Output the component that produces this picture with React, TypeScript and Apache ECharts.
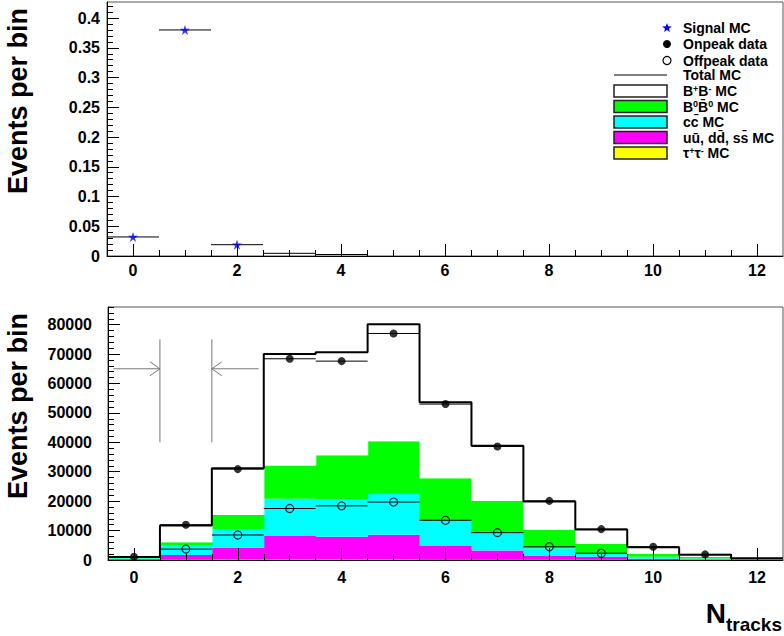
import React, { useEffect, useRef } from 'react';
import * as echarts from 'echarts';

// ---------- data ----------
const BINS = [0, 1, 2, 3, 4, 5, 6, 7, 8, 9, 10, 11, 12];
const X_MAJOR = [0, 2, 4, 6, 8, 10, 12];
const TOP_Y_LABELS = [0, 0.05, 0.1, 0.15, 0.2, 0.25, 0.3, 0.35, 0.4];
const BOTTOM_Y_LABELS = [0, 10000, 20000, 30000, 40000, 50000, 60000, 70000, 80000];

// Signal MC (top panel)
const signalMC = [0.032, 0.38, 0.019, 0.0045, 0.0025, null, null, null, null, null, null, null, null];

// Stacked MC components (bottom panel), bottom to top
const tauMC = [100, 100, 200, 200, 200, 200, 100, 100, 100, 50, 30, 20, 10];
const udsMC = [200, 1600, 4000, 8000, 7700, 8400, 4800, 3100, 1400, 1050, 370, 180, 90];
const ccMC = [300, 3200, 6200, 12600, 12800, 13900, 8700, 6200, 2500, 1200, 700, 300, 100];
const b0b0MC = [200, 1100, 4900, 11300, 14900, 17900, 14200, 10700, 6200, 3100, 900, 500, 100];
const bpbmMC = [200, 5700, 15900, 37900, 35000, 39700, 25800, 18700, 9700, 5000, 2300, 800, 300];

const onpeakData = [1100, 12000, 30900, 68400, 67600, 77000, 53000, 38600, 20100, 10500, 4500, 1900, null];
const offpeakData = [null, 3700, 8500, 17500, 18400, 19700, 13500, 9300, 4500, 2300, null, null, null];

// selection cut arrows
const CUT_LOW = 0.5;
const CUT_HIGH = 1.5;
const ARROW_Y = 65000;
const CUT_LINE_RANGE = [40000, 75000];
const ARROW_LEFT_START = -0.4;
const ARROW_RIGHT_END = 2.4;

// ---------- helpers ----------
const FONT = '"Liberation Sans", Arial, Helvetica, sans-serif';
const minorTicks = (start: number, step: number, end: number) => {
  const out: number[] = [];
  for (let k = 1; start + k * step <= end + 1e-9; k++) out.push(+(start + k * step).toFixed(6));
  return out;
};
const X_MINOR = minorTicks(-0.5, 0.5, 12);
const TOP_Y_MINOR = minorTicks(0, 0.01, 0.42);
const BOTTOM_Y_MINOR = minorTicks(0, 2000, 86000);

const layers = [
  { name: 'tau', values: tauMC, color: '#ffff00' },
  { name: 'uds', values: udsMC, color: '#ff00ff' },
  { name: 'cc', values: ccMC, color: '#00ffff' },
  { name: 'b0b0', values: b0b0MC, color: '#00ff00' },
  { name: 'bpbm', values: bpbmMC, color: '#ffffff' },
];

function xAxisPair(gridIndex: number, labelMargin: number) {
  return [
    {
      gridIndex, type: 'value', position: 'bottom', min: -0.5, max: 12.5, z: 10,
      axisLine: { show: true, onZero: false, lineStyle: { color: '#000', width: 1 } },
      axisTick: { show: true, inside: true, length: 12, customValues: X_MAJOR, lineStyle: { color: '#000' } },
      axisLabel: { customValues: X_MAJOR, margin: labelMargin, fontSize: 16, fontWeight: 'bold', fontFamily: FONT, color: '#000', formatter: (v: number) => String(v) },
      splitLine: { show: false },
    },
    {
      gridIndex, type: 'value', position: 'bottom', min: -0.5, max: 12.5, z: 10,
      axisLine: { show: false, onZero: false },
      axisTick: { show: true, inside: true, length: 6, customValues: X_MINOR, lineStyle: { color: '#000' } },
      axisLabel: { show: false },
      splitLine: { show: false },
    },
  ];
}

function yAxisPair(gridIndex: number, max: number, labels: number[], minor: number[], labelMargin: number) {
  return [
    {
      gridIndex, type: 'value', position: 'left', min: 0, max, z: 10,
      axisLine: { show: true, onZero: false, lineStyle: { color: '#000', width: 1 } },
      axisTick: { show: true, inside: true, length: 12, customValues: labels, lineStyle: { color: '#000' } },
      axisLabel: { customValues: labels, margin: labelMargin, fontSize: 16, fontWeight: 'bold', fontFamily: FONT, color: '#000', formatter: (v: number) => String(v) },
      splitLine: { show: false },
    },
    {
      gridIndex, type: 'value', position: 'left', min: 0, max, z: 10,
      axisLine: { show: false, onZero: false },
      axisTick: { show: true, inside: true, length: 6, customValues: minor, lineStyle: { color: '#000' } },
      axisLabel: { show: false },
      splitLine: { show: false },
    },
  ];
}

function hErrorBars(values: (number | null)[], xAxisIndex: number, yAxisIndex: number, z: number) {
  return {
    type: 'custom', xAxisIndex, yAxisIndex, z,
    data: BINS.filter((i) => values[i] != null).map((i) => [i, values[i] as number]),
    renderItem: (_p: any, api: any) => {
      const x = api.value(0);
      const y = api.value(1);
      const a = api.coord([x - 0.5, y]);
      const b = api.coord([x + 0.5, y]);
      return { type: 'line', shape: { x1: a[0], y1: a[1], x2: b[0], y2: b[1] }, style: { stroke: '#000', lineWidth: 1 } };
    },
  };
}

function buildOption() {
  const series: any[] = [];

  // top panel: signal MC
  series.push(hErrorBars(signalMC, 0, 0, 3));
  series.push({
    type: 'scatter', xAxisIndex: 0, yAxisIndex: 0, z: 5,
    symbol: 'path://M50,0 L61.8,35.1 L98.6,35.1 L68.7,56.8 L80.2,91.9 L50,70.2 L19.8,91.9 L31.3,56.8 L1.4,35.1 L38.2,35.1 Z',
    symbolSize: 10,
    itemStyle: { color: '#0000ff' },
    data: BINS.filter((i) => signalMC[i] != null && (signalMC[i] as number) > 0.01).map((i) => [i, signalMC[i]]),
  });

  // bottom panel: stacked fills
  const lower = BINS.map(() => 0);
  layers.forEach((layer) => {
    const data = BINS.map((i) => {
      const lo = lower[i];
      const hi = lo + layer.values[i];
      lower[i] = hi;
      return [i, lo, hi];
    });
    series.push({
      type: 'custom', xAxisIndex: 2, yAxisIndex: 2, z: 2,
      data,
      renderItem: (_p: any, api: any) => {
        const x = api.value(0);
        const lo = api.value(1);
        const hi = api.value(2);
        const p1 = api.coord([x - 0.5, hi]);
        const p2 = api.coord([x + 0.5, lo]);
        return { type: 'rect', shape: { x: p1[0], y: p1[1], width: p2[0] - p1[0] + 0.6, height: p2[1] - p1[1] }, style: { fill: layer.color } };
      },
    });
  });
  const total = lower.slice();

  // total MC step line
  series.push({
    type: 'line', xAxisIndex: 2, yAxisIndex: 2, z: 3, step: 'middle', showSymbol: false, symbol: 'none',
    lineStyle: { color: '#000', width: 2 },
    data: [[-0.5, total[0]], ...BINS.map((i) => [i, total[i]]), [12.5, total[12]]],
  });

  // offpeak
  series.push(hErrorBars(offpeakData, 2, 2, 4));
  series.push({
    type: 'scatter', xAxisIndex: 2, yAxisIndex: 2, z: 5, symbol: 'circle', symbolSize: 8,
    itemStyle: { color: 'transparent', borderColor: '#000', borderWidth: 1.2 },
    data: BINS.filter((i) => offpeakData[i] != null).map((i) => [i, offpeakData[i]]),
  });
  // onpeak
  series.push(hErrorBars(onpeakData, 2, 2, 4));
  series.push({
    type: 'scatter', xAxisIndex: 2, yAxisIndex: 2, z: 5, symbol: 'circle', symbolSize: 8,
    itemStyle: { color: '#000' },
    data: BINS.filter((i) => onpeakData[i] != null).map((i) => [i, onpeakData[i]]),
  });

  // cut arrows
  series.push({
    type: 'custom', xAxisIndex: 2, yAxisIndex: 2, z: 4,
    data: [[CUT_LOW, ARROW_Y]],
    renderItem: (_p: any, api: any) => {
      const st = { stroke: '#777', lineWidth: 1 };
      const a0 = api.coord([ARROW_LEFT_START, ARROW_Y]);
      const a1 = api.coord([CUT_LOW, ARROW_Y]);
      const v1t = api.coord([CUT_LOW, CUT_LINE_RANGE[1]]);
      const v1b = api.coord([CUT_LOW, CUT_LINE_RANGE[0]]);
      const b0 = api.coord([CUT_HIGH, ARROW_Y]);
      const b1 = api.coord([ARROW_RIGHT_END, ARROW_Y]);
      const v2t = api.coord([CUT_HIGH, CUT_LINE_RANGE[1]]);
      const v2b = api.coord([CUT_HIGH, CUT_LINE_RANGE[0]]);
      const L = (x1: number, y1: number, x2: number, y2: number) => ({ type: 'line', shape: { x1, y1, x2, y2 }, style: st });
      return {
        type: 'group',
        children: [
          L(a0[0], a0[1], a1[0], a1[1]),
          L(a1[0] - 10, a1[1] - 7, a1[0], a1[1]),
          L(a1[0] - 10, a1[1] + 7, a1[0], a1[1]),
          L(v1t[0], v1t[1], v1b[0], v1b[1]),
          L(b0[0], b0[1], b1[0], b1[1]),
          L(b0[0] + 10, b0[1] - 7, b0[0], b0[1]),
          L(b0[0] + 10, b0[1] + 7, b0[0], b0[1]),
          L(v2t[0], v2t[1], v2b[0], v2b[1]),
        ],
      };
    },
  });

  // ---------- legend & titles as graphics ----------
  const legendX0 = 614;
  const legendX1 = 667;
  const textX = 683;
  const rows = [28, 44, 60.5, 75, 91, 106.5, 122, 137.5, 153];
  const rich = {
    n: { fontSize: 14, fontWeight: 'bold', fontFamily: FONT, color: '#000', lineHeight: 14 },
    s: { fontSize: 9, fontWeight: 'bold', fontFamily: FONT, color: '#000', lineHeight: 8, verticalAlign: 'top' },
  };
  const legendText = (y: number, text: string) => ({
    type: 'text', x: textX, y, z: 100,
    style: { text, rich, x: 0, y: 0, fill: '#000', font: `bold 14px ${FONT}`, verticalAlign: 'middle', textVerticalAlign: 'middle', align: 'left', textAlign: 'left' },
  });
  const starPts: number[][] = [];
  for (let k = 0; k < 10; k++) {
    const r = k % 2 === 0 ? 5 : 2.1;
    const ang = -Math.PI / 2 + (k * Math.PI) / 5;
    starPts.push([legendX1 + r * Math.cos(ang), rows[0] + r * Math.sin(ang)]);
  }
  const box = (y: number, fill: string) => ({
    type: 'rect', z: 100,
    shape: { x: legendX0, y: y - 6, width: legendX1 - legendX0, height: 12 },
    style: { fill, stroke: '#222', lineWidth: 1.5 },
  });

  const graphic: any[] = [
    { type: 'polygon', z: 100, shape: { points: starPts }, style: { fill: '#0000ff' } },
    { type: 'circle', z: 100, shape: { cx: legendX1, cy: rows[1], r: 4 }, style: { fill: '#000' } },
    { type: 'circle', z: 100, shape: { cx: legendX1, cy: rows[2], r: 4 }, style: { fill: 'none', stroke: '#000', lineWidth: 1.2 } },
    { type: 'line', z: 100, shape: { x1: legendX0, y1: rows[3], x2: legendX1, y2: rows[3] }, style: { stroke: '#555', lineWidth: 1.5 } },
    box(rows[4], '#ffffff'),
    box(rows[5], '#00ff00'),
    box(rows[6], '#00ffff'),
    box(rows[7], '#ff00ff'),
    box(rows[8], '#ffff00'),
    legendText(rows[0], '{n|Signal MC}'),
    legendText(rows[1], '{n|Onpeak data}'),
    legendText(rows[2], '{n|Offpeak data}'),
    legendText(rows[3], '{n|Total MC}'),
    legendText(rows[4], '{n|B}{s|+}{n|B}{s|-}{n| MC}'),
    legendText(rows[5], '{n|B}{s|0}{n|B\u0304}{s|0}{n| MC}'),
    legendText(rows[6], '{n|cc\u0304 MC}'),
    legendText(rows[7], '{n|uu\u0304, dd\u0304, ss\u0304 MC}'),
    legendText(rows[8], '{n|\u03c4}{s|+}{n|\u03c4}{s|-}{n| MC}'),
    // y axis titles
    {
      type: 'text', x: 18, y: 101, rotation: Math.PI / 2, z: 100,
      style: { text: 'Events per bin', fill: '#000', font: `bold 27px ${FONT}`, align: 'center', textAlign: 'center', verticalAlign: 'middle', textVerticalAlign: 'middle' },
    },
    {
      type: 'text', x: 18, y: 406, rotation: Math.PI / 2, z: 100,
      style: { text: 'Events per bin', fill: '#000', font: `bold 27px ${FONT}`, align: 'center', textAlign: 'center', verticalAlign: 'middle', textVerticalAlign: 'middle' },
    },
    // x axis title
    {
      type: 'text', x: 726, y: 613, z: 100,
      style: { text: 'N', fill: '#000', font: `bold 28px ${FONT}`, align: 'right', textAlign: 'right', verticalAlign: 'middle', textVerticalAlign: 'middle' },
    },
    {
      type: 'text', x: 726, y: 624, z: 100,
      style: { text: 'tracks', fill: '#000', font: `bold 19px ${FONT}`, align: 'left', textAlign: 'left', verticalAlign: 'middle', textVerticalAlign: 'middle' },
    },
  ];

  return {
    animation: false,
    backgroundColor: '#ffffff',
    grid: [
      { left: 107, top: 2, width: 676, height: 254, show: true, borderColor: '#555', borderWidth: 1, backgroundColor: 'transparent' },
      { left: 108, top: 307, width: 675, height: 253, show: true, borderColor: '#555', borderWidth: 1, backgroundColor: 'transparent' },
    ],
    xAxis: [...xAxisPair(0, 6), ...xAxisPair(1, 9)],
    yAxis: [
      ...yAxisPair(0, 0.427, TOP_Y_LABELS, TOP_Y_MINOR, 7),
      ...yAxisPair(1, 86000, BOTTOM_Y_LABELS, BOTTOM_Y_MINOR, 16),
    ],
    series,
    graphic,
  };
}

export default function App() {
  const ref = useRef<HTMLDivElement>(null);
  useEffect(() => {
    if (!ref.current) return;
    const chart = echarts.init(ref.current, undefined, { renderer: 'svg' });
    chart.setOption(buildOption() as any);
    return () => chart.dispose();
  }, []);
  return <div ref={ref} style={{ position: 'absolute', left: 0, top: 0, width: 784, height: 636 }} />;
}
